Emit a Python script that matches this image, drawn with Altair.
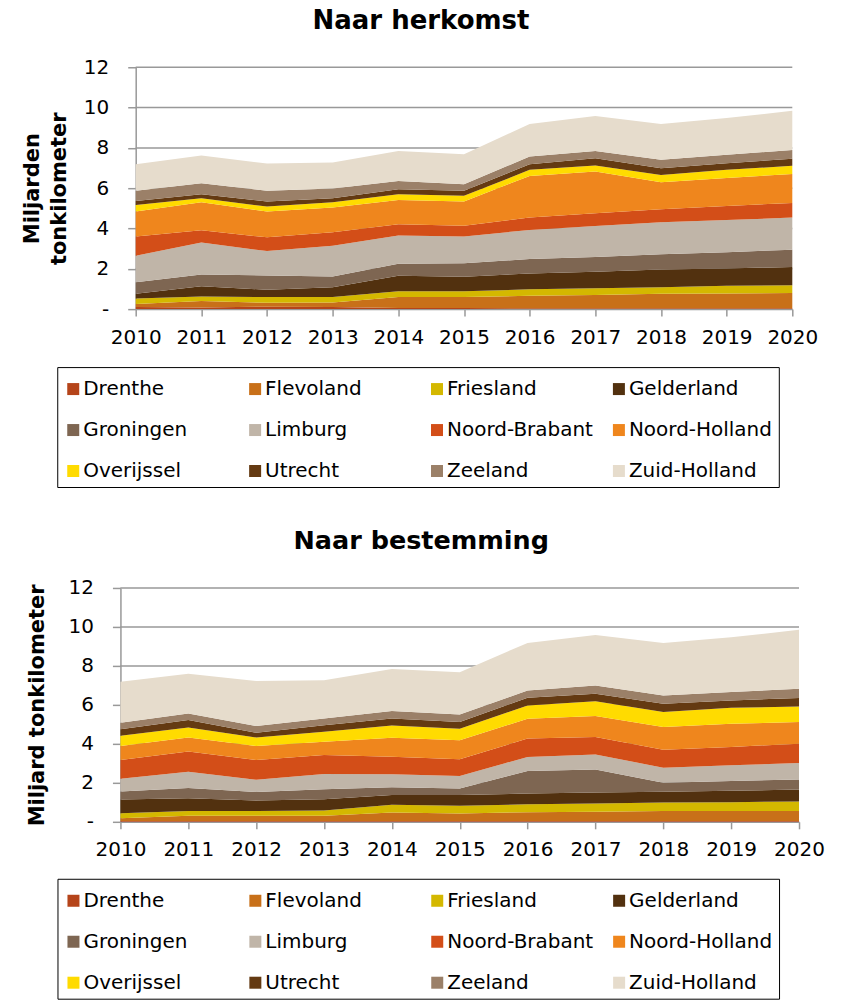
import altair as alt
import pandas as pd

FONT = "DejaVu Sans"

years = [2010, 2011, 2012, 2013, 2014, 2015, 2016, 2017, 2018, 2019, 2020]
provinces = ["Drenthe", "Flevoland", "Friesland", "Gelderland", "Groningen", "Limburg",
             "Noord-Brabant", "Noord-Holland", "Overijssel", "Utrecht", "Zeeland", "Zuid-Holland"]
colors = ["#B5441A", "#C87019", "#D4B800", "#52310F", "#7E6652", "#C0B5A8",
          "#D34E18", "#EF861D", "#FFDB00", "#643A12", "#9B8068", "#E6DCCC"]

# Naar herkomst (miljard tonkilometer)
h_drenthe = [0.10, 0.08, 0.12, 0.10, 0.05, 0.05, 0.04, 0.04, 0.04, 0.04, 0.04]
h_flevoland = [0.15, 0.32, 0.19, 0.23, 0.55, 0.55, 0.62, 0.66, 0.72, 0.74, 0.76]
h_friesland = [0.28, 0.23, 0.29, 0.27, 0.29, 0.29, 0.32, 0.33, 0.33, 0.38, 0.39]
h_gelderland = [0.23, 0.50, 0.36, 0.49, 0.77, 0.72, 0.79, 0.83, 0.87, 0.86, 0.90]
h_groningen = [0.57, 0.59, 0.71, 0.53, 0.59, 0.66, 0.72, 0.72, 0.76, 0.80, 0.86]
h_limburg = [1.32, 1.58, 1.21, 1.53, 1.40, 1.33, 1.44, 1.55, 1.59, 1.60, 1.59]
h_noord_brabant = [0.95, 0.61, 0.68, 0.66, 0.56, 0.54, 0.61, 0.63, 0.64, 0.70, 0.73]
h_noord_holland = [1.24, 1.39, 1.28, 1.23, 1.21, 1.20, 2.07, 2.07, 1.35, 1.38, 1.44]
h_overijssel = [0.33, 0.20, 0.25, 0.26, 0.28, 0.28, 0.30, 0.30, 0.36, 0.41, 0.40]
h_utrecht = [0.20, 0.20, 0.25, 0.20, 0.25, 0.25, 0.28, 0.36, 0.33, 0.33, 0.35]
h_zeeland = [0.50, 0.55, 0.53, 0.48, 0.41, 0.33, 0.38, 0.36, 0.42, 0.42, 0.44]
h_zuid_holland = [1.32, 1.37, 1.35, 1.29, 1.49, 1.49, 1.61, 1.73, 1.77, 1.82, 1.94]

# Naar bestemming (miljard tonkilometer)
b_drenthe = [0.04, 0.04, 0.04, 0.04, 0.04, 0.04, 0.04, 0.04, 0.04, 0.04, 0.04]
b_flevoland = [0.14, 0.27, 0.27, 0.27, 0.44, 0.39, 0.45, 0.47, 0.51, 0.51, 0.52]
b_friesland = [0.26, 0.25, 0.25, 0.27, 0.39, 0.39, 0.41, 0.43, 0.44, 0.46, 0.48]
b_gelderland = [0.71, 0.65, 0.53, 0.58, 0.51, 0.55, 0.55, 0.56, 0.55, 0.58, 0.62]
b_groningen = [0.40, 0.53, 0.44, 0.51, 0.39, 0.34, 1.16, 1.18, 0.47, 0.51, 0.51]
b_limburg = [0.66, 0.83, 0.63, 0.78, 0.67, 0.64, 0.72, 0.77, 0.77, 0.80, 0.85]
b_noord_brabant = [0.96, 1.04, 1.01, 0.98, 0.90, 0.86, 0.94, 0.90, 0.92, 0.94, 0.99]
b_noord_holland = [0.72, 0.72, 0.72, 0.68, 0.97, 0.97, 1.02, 1.08, 1.16, 1.19, 1.11]
b_overijssel = [0.53, 0.51, 0.44, 0.51, 0.63, 0.60, 0.68, 0.75, 0.77, 0.82, 0.80]
b_utrecht = [0.33, 0.38, 0.24, 0.34, 0.36, 0.34, 0.40, 0.39, 0.43, 0.38, 0.43]
b_zeeland = [0.33, 0.34, 0.34, 0.34, 0.38, 0.39, 0.37, 0.43, 0.42, 0.43, 0.48]
b_zuid_holland = [2.11, 2.04, 2.32, 1.96, 2.16, 2.17, 2.44, 2.59, 2.70, 2.81, 3.02]

y_ticks = [0, 2, 4, 6, 8, 10, 12]
grid_values = [2, 4, 6, 8, 10, 12]

herkomst = [h_drenthe, h_flevoland, h_friesland, h_gelderland, h_groningen, h_limburg,
            h_noord_brabant, h_noord_holland, h_overijssel, h_utrecht, h_zeeland, h_zuid_holland]
bestemming = [b_drenthe, b_flevoland, b_friesland, b_gelderland, b_groningen, b_limburg,
              b_noord_brabant, b_noord_holland, b_overijssel, b_utrecht, b_zeeland, b_zuid_holland]


def make_df(series):
    rows = []
    for i, (p, vals) in enumerate(zip(provinces, series)):
        for y, v in zip(years, vals):
            rows.append({"Jaar": y, "Provincie": p, "Waarde": v, "orde": i})
    return pd.DataFrame(rows)


GREY = "#999999"


def panel(series, title, ytitle, width, plot_w, height, legend_x, legend_y,
          title_dx, title_size, title_pad):
    df = make_df(series)
    xscale = alt.Scale(domain=[2010, 2020], range=[0, plot_w], nice=False, zero=False)
    yscale = alt.Scale(domain=[0, 12], nice=False)
    yaxis = alt.Axis(values=y_ticks, title=ytitle, grid=False,
                     labelExpr="datum.value == 0 ? '-' : datum.label",
                     labelFontSize=20, labelFont=FONT, labelColor="#000000",
                     tickSize=8, tickColor=GREY, tickWidth=1.5,
                     domainColor=GREY, domainWidth=1.5, labelPadding=19,
                     titleFont=FONT, titleFontSize=21, titleFontWeight="bold",
                     titleColor="#000000", titlePadding=title_pad, titleLineHeight=27)

    grid = alt.Chart(pd.DataFrame({"g": grid_values})).mark_rule(
        color=GREY, strokeWidth=1.5
    ).encode(
        y=alt.Y("g:Q", scale=yscale, axis=yaxis),
        x=alt.datum(2010, scale=xscale),
        x2=alt.datum(2020),
    )

    area = alt.Chart(df).mark_area(interpolate="linear", opacity=1).encode(
        x=alt.X("Jaar:Q", scale=xscale,
                axis=alt.Axis(values=years, format="d", title=None, grid=False,
                              labelFontSize=20, labelFont=FONT, labelColor="#000000",
                              tickSize=7, tickColor=GREY, tickWidth=1.5,
                              domainColor=GREY, domainWidth=1.5, labelPadding=11,
                              labelFlush=False, labelOverlap=False)),
        y=alt.Y("Waarde:Q", stack="zero", scale=yscale, axis=yaxis),
        color=alt.Color("Provincie:N",
                        scale=alt.Scale(domain=provinces, range=colors),
                        legend=alt.Legend(orient="none", legendX=legend_x, legendY=legend_y,
                                          direction="horizontal",
                                          columns=4, title=" ", titleFontSize=1,
                                          titlePadding=5, symbolType="square",
                                          symbolSize=144, symbolStrokeWidth=0,
                                          symbolOpacity=1,
                                          labelFontSize=20, labelFont=FONT,
                                          labelColor="#000000", labelLimit=0,
                                          labelOffset=0, gridAlign="all",
                                          columnPadding=15, rowPadding=21,
                                          padding=6, strokeColor="#000000")),
        order=alt.Order("orde:Q", sort="ascending"),
    )

    return alt.layer(grid, area).properties(
        width=width, height=height,
        title=alt.TitleParams(title, font=FONT, fontSize=title_size, fontWeight="bold",
                              color="#000000", anchor="middle", dx=title_dx, offset=23),
    )


top = panel(herkomst, "Naar herkomst", ["Miljarden", "tonkilometer"],
            657, 657, 242, -78.5, 300, -43, 26, 14)
bottom = panel(bestemming, "Naar bestemming", "Miljard tonkilometer",
               713, 679, 234, -63, 291, -55.5, 25.5, 21)

chart = alt.vconcat(top, bottom, spacing=41, center=True).resolve_scale(
    color="independent"
).resolve_legend(color="independent").properties(
    padding={"left": 12.5, "top": 0, "right": 0, "bottom": 5}
).configure_view(stroke=None)

chart.save("out.html", embed_options={"renderer": "svg", "actions": False})
